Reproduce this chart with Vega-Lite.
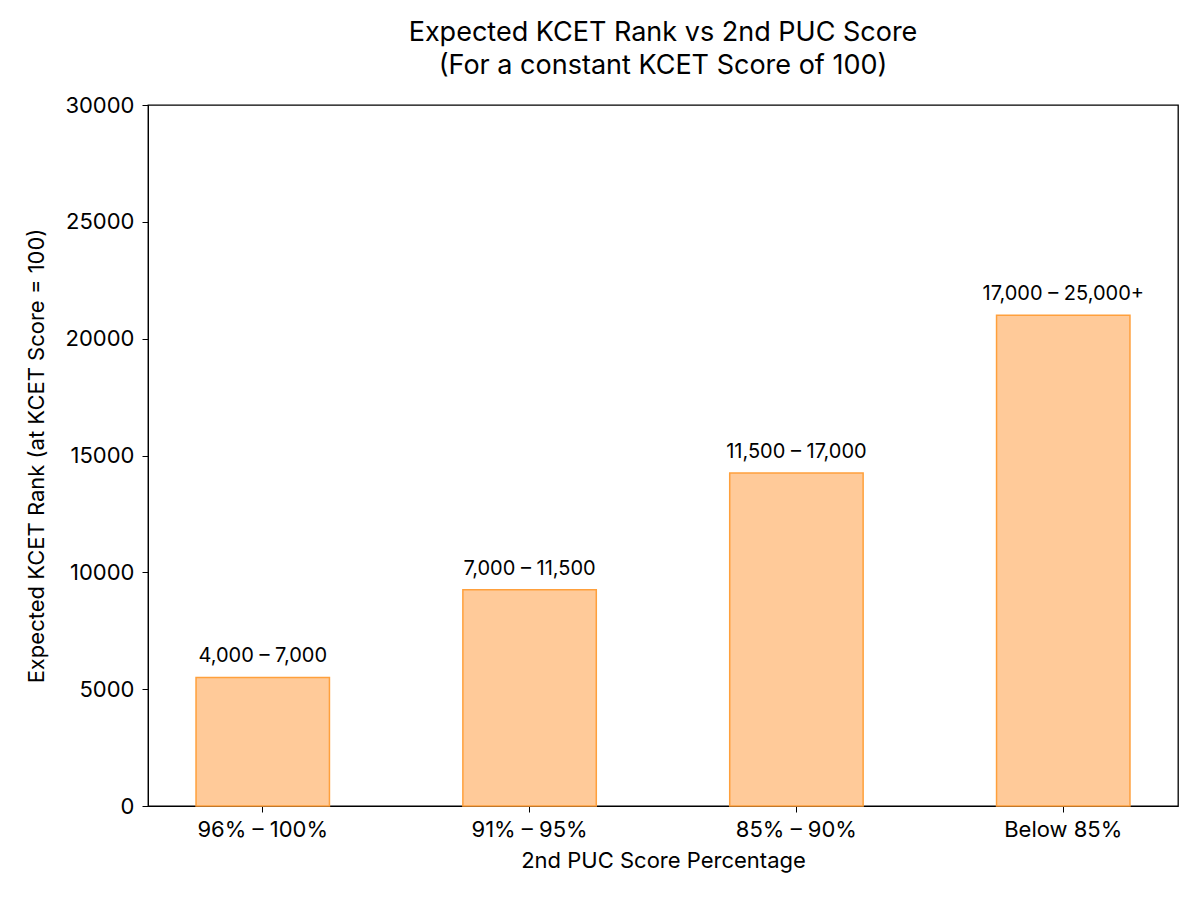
{
  "$schema": "https://vega.github.io/schema/vega-lite/v6.json",
  "autosize": {"type": "none"},
  "width": 1030,
  "height": 701,
  "padding": {"left": 148, "top": 105, "right": 22, "bottom": 94},
  "background": "white",
  "config": {
    "font": "Inter",
    "view": {"stroke": "black", "strokeWidth": 1.3},
    "axis": {"domainColor": "black", "tickColor": "black", "labelColor": "black", "titleColor": "black", "grid": false, "labelFont": "Inter", "titleFont": "Inter", "titleFontWeight": "normal"}
  },
  "title": {
    "text": ["Expected KCET Rank vs 2nd PUC Score", "(For a constant KCET Score of 100)"],
    "fontSize": 27,
    "fontWeight": "normal",
    "color": "black",
    "anchor": "middle",
    "offset": 14,
    "lineHeight": 33
  },
  "data": {
    "values": [
      {"range": "96% – 100%", "rank": 5500, "label": "4,000 – 7,000"},
      {"range": "91% – 95%", "rank": 9250, "label": "7,000 – 11,500"},
      {"range": "85% – 90%", "rank": 14250, "label": "11,500 – 17,000"},
      {"range": "Below 85%", "rank": 21000, "label": "17,000 – 25,000+"}
    ]
  },
  "encoding": {
    "x": {
      "field": "range",
      "type": "nominal",
      "sort": null,
      "scale": {"paddingInner": 0.5, "paddingOuter": 0.18},
      "axis": {"title": "2nd PUC Score Percentage", "labelAngle": 0, "labelFontSize": 22, "titleFontSize": 22, "tickSize": 6, "labelPadding": 7, "titlePadding": 10}
    },
    "y": {
      "field": "rank",
      "type": "quantitative",
      "scale": {"domain": [0, 30000], "nice": false},
      "axis": {"title": "Expected KCET Rank (at KCET Score = 100)", "values": [0, 5000, 10000, 15000, 20000, 25000, 30000], "format": "d", "labelFontSize": 22, "titleFontSize": 22, "tickSize": 6, "labelPadding": 8, "titlePadding": 16}
    }
  },
  "layer": [
    {"mark": {"type": "bar", "fill": "#FFCA99", "stroke": "#FFA03C", "strokeWidth": 1.5}},
    {"mark": {"type": "text", "baseline": "bottom", "dy": -11, "fontSize": 20, "color": "black"}, "encoding": {"text": {"field": "label"}}}
  ]
}
